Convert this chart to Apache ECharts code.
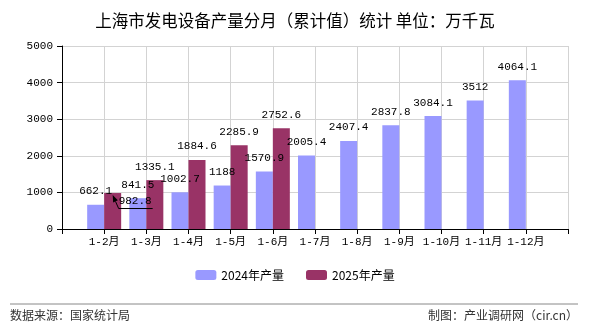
<!DOCTYPE html>
<html><head><meta charset="utf-8">
<script src="https://cdn.jsdelivr.net/npm/echarts@6/dist/echarts.min.js"></script>
<style>html,body{margin:0;padding:0;background:#fff}#c{width:590px;height:330px}</style>
</head><body><div id="c"></div>
<script>
var categories = ['1-2月','1-3月','1-4月','1-5月','1-6月','1-7月','1-8月','1-9月','1-10月','1-11月','1-12月'];
var values2024 = [662.1, 841.5, 1002.7, 1188, 1570.9, 2005.4, 2407.4, 2837.8, 3084.1, 3512, 4064.1];
var values2025 = [982.8, 1335.1, 1884.6, 2285.9, 2752.6];
var seriesNames = ['2024年产量','2025年产量'];
var yTicks = [0, 1000, 2000, 3000, 4000, 5000];

var axisCats = [''].concat(categories).concat(['']);
function pad(arr){ var out=[null]; for(var i=0;i<categories.length;i++){ out.push(i<arr.length?arr[i]:null);} out.push(null); return out; }
var d2024 = pad(values2024);
var d2025 = pad(values2025);
var numFont = "'Liberation Mono','Noto Sans CJK SC',monospace";
var cjkFont = "'Noto Sans CJK SC',sans-serif";
var chart = echarts.init(document.getElementById('c'));
var footer = [
  {type:'line', shape:{x1:10, y1:304, x2:578, y2:304}, style:{stroke:'#888', lineWidth:1}},
  {type:'text', left:10, top:309, style:{text:'数据来源：国家统计局', fontSize:12, fill:'#333', fontFamily:cjkFont}},
  {type:'text', right:12, top:309, style:{text:'制图：产业调研网（cir.cn）', fontSize:12, fill:'#333', fontFamily:cjkFont}}
];
chart.setOption({
  animation:false,
  title:{text:'上海市发电设备产量分月（累计值）统计 单位：万千瓦', left:'center', top:7,
    textStyle:{fontSize:16.5, fontWeight:'normal', color:'#000', fontFamily:cjkFont}},
  grid:{left:62, right:22, top:46, bottom:101},
  legend:{bottom:44, left:'center', itemWidth:21, itemHeight:10, itemGap:22,
    textStyle:{fontSize:12, color:'#000', fontFamily:cjkFont}, data:seriesNames},
  xAxis:{type:'category', data:axisCats, boundaryGap:false,
    axisLine:{lineStyle:{color:'#000'}},
    axisTick:{show:true, length:5, lineStyle:{color:'#000'}},
    axisLabel:{color:'#000', fontSize:11, fontFamily:numFont, margin:8, interval:0},
    splitLine:{show:true, lineStyle:{color:'#d3d3d3'}}},
  yAxis:{type:'value', min:yTicks[0], max:yTicks[yTicks.length-1], interval:1000,
    axisLine:{show:true, lineStyle:{color:'#000'}},
    axisTick:{show:true, length:5, lineStyle:{color:'#000'}},
    axisLabel:{color:'#000', fontSize:11, fontFamily:numFont, margin:9, formatter:function(v){return String(v);}},
    splitLine:{show:true, lineStyle:{color:'#d3d3d3'}}},
  labelLayout:function(p){
    if(p.seriesIndex===1 && p.dataIndex===1){
      return {x:p.rect.x + p.rect.width - 2.5, y:p.rect.y + 8, align:'left', verticalAlign:'middle'};
    }
  },
  series:[
    {name:seriesNames[0], type:'bar', data:d2024, barWidth:17, barGap:'0%',
      itemStyle:{color:'#9999ff'},
      label:{show:true, position:'top', distance:8, color:'#000', fontSize:11, fontFamily:numFont}},
    {name:seriesNames[1], type:'bar', data:d2025, barWidth:17,
      itemStyle:{color:'#993366'},
      label:{show:true, position:'top', distance:8, color:'#000', fontSize:11, fontFamily:numFont}}
  ],
  graphic:footer
});
// leader line for the displaced 2025 1-2 label, anchored to the bar laid out by the library
var lay = chart.getModel().getSeriesByIndex(1).getData().getItemLayout(1);
var barTop = [lay.x + lay.width / 2, Math.min(lay.y, lay.y + lay.height)];
var tip = [barTop[0], barTop[1] + 2];
var elbow = [barTop[0] + 6, barTop[1] + 15.5];
var lineEnd = [barTop[0] + 40, barTop[1] + 15.5];
var vx = elbow[0] - tip[0], vy = elbow[1] - tip[1], vl = Math.sqrt(vx*vx + vy*vy);
var ux = vx / vl, uy = vy / vl;
var bc = [tip[0] + ux*7, tip[1] + uy*7];
chart.setOption({graphic: footer.concat([
  {type:'polyline', z:100, shape:{points:[[bc[0], bc[1]], elbow, lineEnd]}, style:{stroke:'#000', lineWidth:1, fill:null}},
  {type:'polygon', z:100, shape:{points:[tip, [bc[0] - uy*2.6, bc[1] + ux*2.6], [bc[0] + uy*2.6, bc[1] - ux*2.6]]}, style:{fill:'#000'}}
])});
</script></body></html>
